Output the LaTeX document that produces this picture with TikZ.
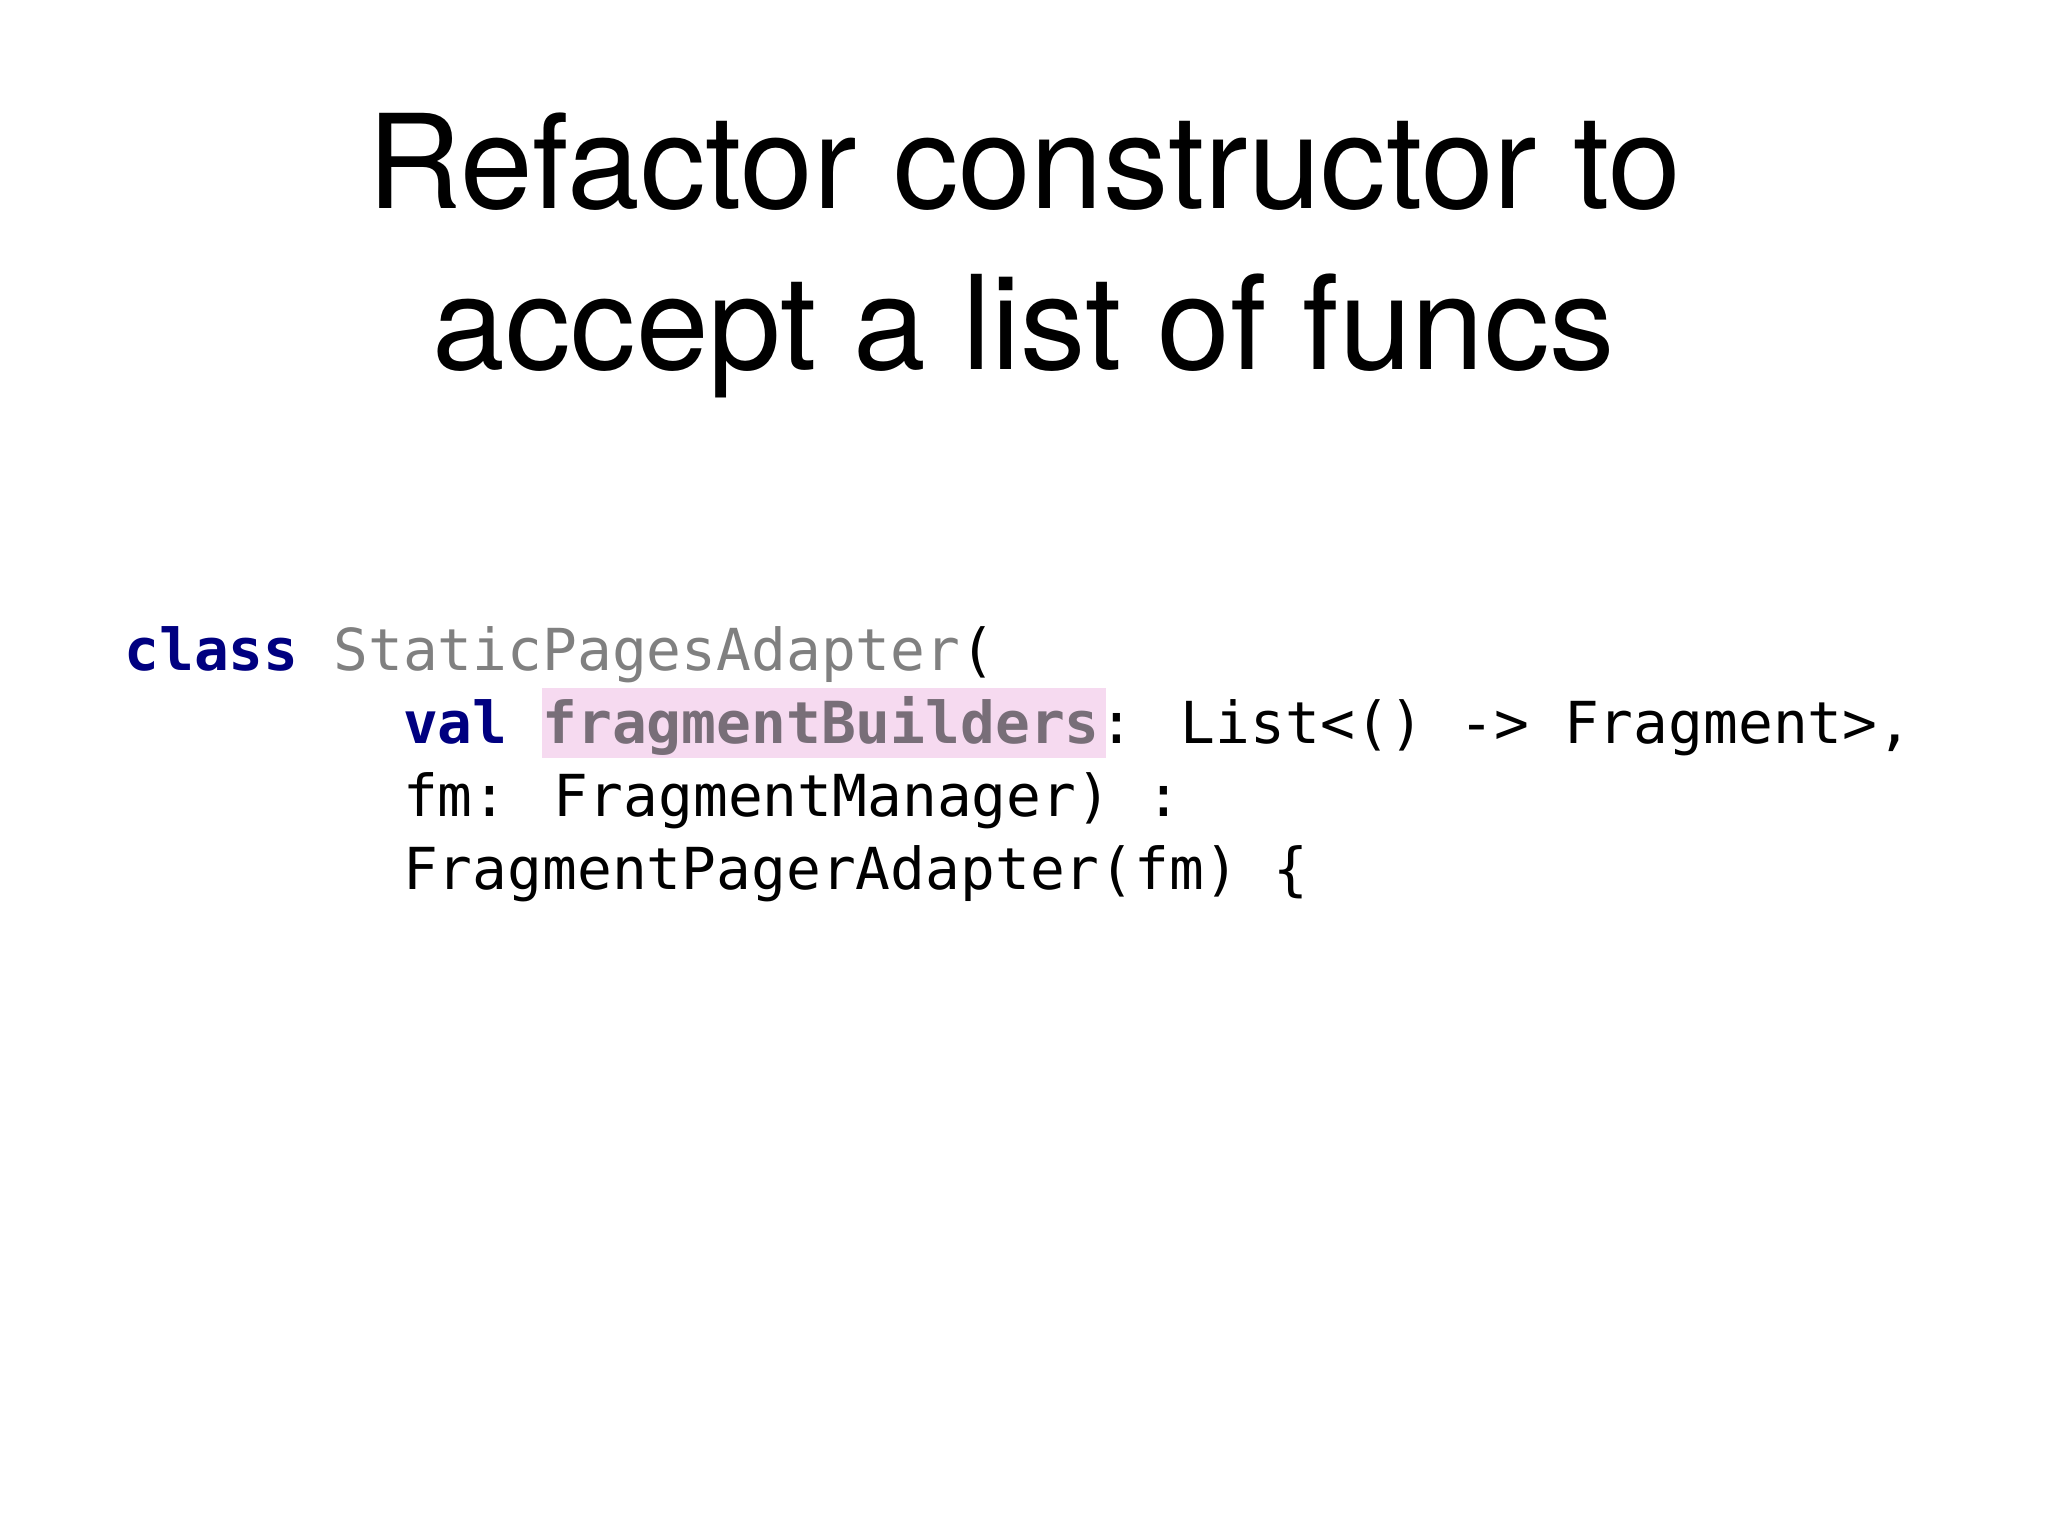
\documentclass[tikz,border=0pt]{standalone}
\usepackage{fontspec}
\setmainfont{TeX Gyre Heros}
\newfontfamily\codefont{DejaVu Sans Mono}
\definecolor{kw}{RGB}{0,0,128}
\definecolor{cls}{RGB}{128,128,128}
\definecolor{hl}{RGB}{246,218,240}
\definecolor{fld}{RGB}{120,110,120}
\tikzset{title/.style={font=\fontsize{100}{120}\selectfont, anchor=base, inner sep=0pt},
code/.style={font=\codefont\fontsize{44.3}{50}\selectfont, anchor=base west, inner sep=0pt}}
\begin{document}
\begin{tikzpicture}[x=1pt,y=-1pt]
\useasboundingbox[fill=white] (0,0) rectangle (1568,1176);
\node[title] (t1) at (784,160) {Refactor constructor to};
\node[title] (t2) at (784,283) {accept a list of funcs};
\fill[hl] (415,527) rectangle (847,580);
\node[code] (l1) at (95,513) {\textcolor{kw}{\bfseries class} \textcolor{cls}{StaticPagesAdapter}(};
\node[code] (l2) at (95,569) {\phantom{xxxxxxxx}\textcolor{kw}{\bfseries val} \textcolor{fld}{\bfseries fragmentBuilders}: List<() -> Fragment>,};
\node[code] (l3) at (95,625) {\phantom{xxxxxxxx}fm: FragmentManager) :};
\node[code] (l4) at (95,681) {\phantom{xxxxxxxx}FragmentPagerAdapter(fm) \{};
\end{tikzpicture}
\end{document}
